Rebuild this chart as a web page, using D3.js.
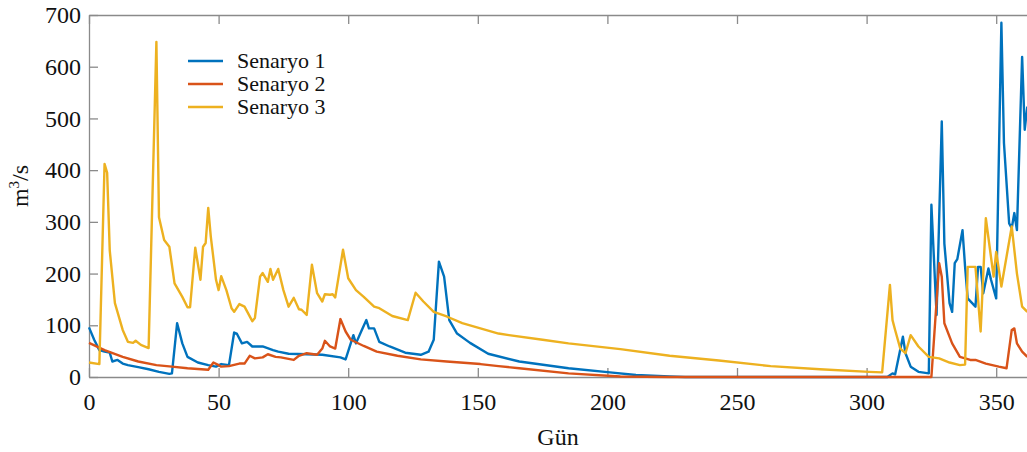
<!DOCTYPE html>
<html>
<head>
<meta charset="utf-8">
<script src="https://cdn.jsdelivr.net/npm/d3@7"></script>
<style>
    body { margin: 0; background: #fff; }
    svg { display: block; font-family: "Liberation Serif", "Times New Roman", serif; }
</style>
</head>
<body>
<svg class="flowChart" width="1027" height="452"></svg>
<script>
// Daily flow (m3/s) for three scenarios as [day, value]
var senaryo1 = [[0,96],[2,72],[4,52],[6,49],[8,47],[9,30],[11,33],[13,26],[15,23],[19,19],[23,15],[27,10],[31,6],[32,7],
    [34,104],[36,65],[38,39],[42,28],[46,23],[49,20],[51,25],[54,23],[56,86],[57,84],[59,65],[61,68],[63,59],[67,59],
    [71,52],[73,49],[77,45],[84,44],[90,43],[97,38],[99,34],[102,81],[103,65],[105,88],[107,110],[108,94],[110,94],
    [112,68],[116,59],[122,47],[128,43],[131,49],[133,72],[135,223],[137,194],[139,110],[142,84],[147,66],[154,45],
    [166,30],[185,17],[201,9],[211,4],[224,1],[230,0],[308,0],[310,7],[311,5],[314,78],[315,46],[317,20],[320,10],
    [324,7],[325,333],[327,120],[329,494],[330,258],[332,143],[333,126],[334,220],[335,228],[337,284],[338,213],
    [339,152],[342,136],[343,213],[344,213],[345,162],[347,210],[348,188],[350,152],[352,685],[353,452],[355,297],
    [356,288],[357,317],[358,284],[360,619],[361,478],[362,523]];

var senaryo2 = [[0,66],[6,52],[13,39],[19,30],[26,23],[32,20],[38,17],[46,14],[48,28],[50,23],[51,20],[54,21],
    [58,26],[60,26],[62,41],[64,36],[67,38],[69,44],[72,39],[74,38],[79,33],[81,41],[84,46],[88,43],[90,55],[91,70],
    [93,59],[95,55],[97,112],[99,88],[101,72],[106,60],[111,49],[119,41],[128,34],[138,30],[151,25],[158,21],
    [166,17],[185,7],[205,1],[224,0],[325,0],[328,220],[329,194],[330,104],[333,65],[336,39],[340,33],[342,33],
    [346,26],[351,20],[354,17],[356,91],[357,94],[358,65],[360,49],[362,39]];

var senaryo3 = [[0,28],[4,25],[6,412],[7,395],[8,245],[10,143],[13,91],[15,68],[17,66],[18,70],[20,62],[23,56],
    [26,648],[27,309],[29,265],[31,252],[33,181],[36,155],[38,135],[39,135],[41,250],[43,188],[44,252],[45,259],
    [46,327],[47,271],[49,188],[50,168],[51,195],[53,168],[55,133],[56,126],[58,141],[60,136],[63,108],[64,114],
    [66,194],[67,201],[69,184],[70,209],[71,188],[73,209],[75,168],[77,136],[79,153],[81,131],[82,130],[84,120],
    [86,217],[88,162],[90,146],[91,160],[93,159],[94,160],[95,154],[98,246],[100,191],[103,168],[106,155],[110,136],
    [112,133],[117,118],[123,110],[126,163],[129,146],[133,126],[138,117],[144,104],[151,94],[158,84],[162,81],
    [175,72],[185,65],[205,54],[224,41],[243,32],[263,21],[282,15],[301,10],[306,9],[309,178],[310,110],[311,91],
    [313,55],[315,46],[317,81],[320,59],[324,39],[328,36],[332,28],[336,23],[338,24],[339,213],[342,213],[344,88],
    [346,307],[349,194],[350,242],[352,175],[356,291],[358,200],[360,136],[362,126]];

var xTicks = [0, 50, 100, 150, 200, 250, 300, 350];
var yTicks = [0, 100, 200, 300, 400, 500, 600, 700];
var seriesNames = ["Senaryo 1", "Senaryo 2", "Senaryo 3"];
var seriesColors = ["#0072BD", "#D95319", "#EDB120"];

var createFlowChart = function () {
    var svg = d3.select("svg.flowChart"),
        left = 89, top = 15, bottom = 377,
        pxPerDay = 2.592;

    var x = d3.scaleLinear().domain([0, 365]).range([left, left + 365 * pxPerDay]);
    var y = d3.scaleLinear().domain([0, 700]).range([bottom, top]);

    var axisColor = "#8a8a8a";

    // bottom axis, ticks pointing inwards
    var gx = svg.append("g")
        .attr("transform", "translate(0," + bottom + ")")
        .call(d3.axisBottom(x).tickValues(xTicks).tickSizeInner(-9).tickSizeOuter(0).tickPadding(16));

    // top box line with ticks
    var gTop = svg.append("g")
        .attr("transform", "translate(0," + top + ")")
        .call(d3.axisTop(x).tickValues(xTicks).tickSizeInner(-9).tickSizeOuter(0).tickFormat(""));

    // left axis
    var gy = svg.append("g")
        .attr("transform", "translate(" + left + ",0)")
        .call(d3.axisLeft(y).tickValues(yTicks).tickSizeInner(-9).tickSizeOuter(0).tickPadding(8));

    [gx, gTop, gy].forEach(function (g) {
        g.selectAll("path, line").attr("stroke", axisColor).attr("stroke-width", 1.3);
        g.selectAll("text")
            .attr("fill", "#111")
            .attr("font-size", "24px")
            .attr("font-family", "'Liberation Serif', 'Times New Roman', serif");
    });

    // series lines, in legend order (later ones on top)
    var line = d3.line()
        .x(function (d) { return x(d[0]); })
        .y(function (d) { return y(d[1]); });

    var allSeries = [senaryo1, senaryo2, senaryo3];
    allSeries.forEach(function (s, i) {
        svg.append("path")
            .attr("d", line(s))
            .attr("fill", "none")
            .attr("stroke", seriesColors[i])
            .attr("stroke-width", 2.4)
            .attr("stroke-linejoin", "round");
    });

    // axis labels
    svg.append("text")
        .attr("x", 558)
        .attr("y", 445)
        .attr("text-anchor", "middle")
        .attr("font-size", "24px")
        .attr("fill", "#111")
        .text("Gün");

    var yLabel = svg.append("text")
        .attr("transform", "translate(28,186) rotate(-90)")
        .attr("text-anchor", "middle")
        .attr("font-size", "24px")
        .attr("fill", "#111");
    yLabel.append("tspan").text("m");
    yLabel.append("tspan").attr("font-size", "15px").attr("dy", "-9").text("3");
    yLabel.append("tspan").attr("dy", "9").text("/s");

    // legend
    var legend = svg.append("g").attr("class", "legend");
    var rowY = [61, 84, 107];
    seriesNames.forEach(function (name, i) {
        legend.append("line")
            .attr("x1", 188).attr("x2", 223)
            .attr("y1", rowY[i]).attr("y2", rowY[i])
            .attr("stroke", seriesColors[i])
            .attr("stroke-width", 2.4);
        legend.append("text")
            .attr("x", 237)
            .attr("y", rowY[i] + 7)
            .attr("font-size", "22px")
            .attr("fill", "#111")
            .text(name);
    });
};

createFlowChart();
</script>
</body>
</html>
